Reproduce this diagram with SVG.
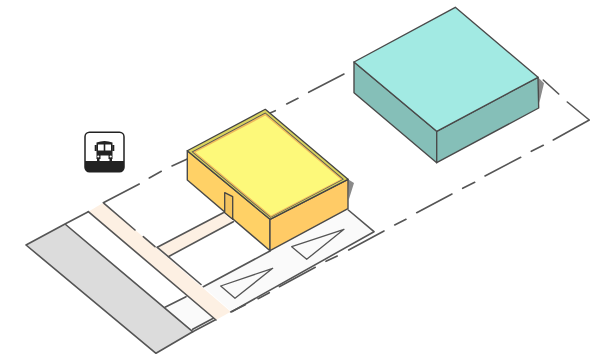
<svg xmlns="http://www.w3.org/2000/svg" width="603" height="354" viewBox="0 0 603 354">
<style>
.l{fill:none;stroke:#555;stroke-width:1.6;stroke-linejoin:round;stroke-linecap:round}
.t{fill:none;stroke:#555;stroke-width:1.3;stroke-linejoin:round;stroke-linecap:round}
.e{stroke:#4a4a4a;stroke-width:1.4;stroke-linejoin:round}
.d{stroke:#444;stroke-width:1.3;stroke-linejoin:round}
</style>
<rect width="603" height="354" fill="#fff"/>
<g id="site">
<polygon id="road" points="65,224 26,245 156,353.3 192.7,331.7" fill="#dcdcdc"/>
<polygon id="pad-left" points="165,307.3 186,296.7 213.3,318.3 192.7,329.3" fill="#fafafa"/>
<polygon id="pad-right" points="203.3,286.7 270,251 348.3,210 374,231.7 231.7,311.7" fill="#fafafa"/>
<polygon id="walk-path" points="157.3,247.3 223.3,212.7 233.3,221.7 168.3,256.7" fill="#fdf0e3"/>
<polygon id="sidewalk" points="88.3,211.7 103.3,202.7 230.7,311.7 216,320" fill="#fdf0e3"/>
<path class="l" d="M65,224 26,245 156,353.300 192.700,331.700 M65,224 192.700,331.700 M65,224 88.300,211.700 M165,307.300 186,296.700 M192.700,329.300 213.300,318.300"/>
<path class="l" d="M88.300,211.700 216,320 M104,203.300 135,230 M143.300,236.700 155,246.700 M157.300,247.300 201,284.500"/>
<path class="l" d="M157.300,247.300 223.300,212.700 M168.300,256.700 233.300,221.700"/>
<path class="l" d="M203.300,286.700 270,251 M348.300,210 374,231.700 231.700,311.700"/>
<polygon class="t" id="parking-a" points="220.700,286 272.700,268.300 235,298.300"/>
<polygon class="t" id="parking-b" points="291.700,246.700 344,229.300 306.700,259.300"/>
</g>
<g id="connectors">
<path class="l" d="M103.300,202.700 139.300,184 M149.300,178 161.300,171.300 M172,166 196,155 M270.700,112.700 275.300,110.700 M286.700,104 298,98.300 M308.700,92.300 344,74 M543.300,80 558.700,94 M567.300,102 589.300,120 553.300,140 M543.300,145.300 531.300,151.300 M520.700,157.300 485,176 M474.700,182.300 462.700,188.300 M452,194 416.700,212.700 M406,219.300 394.700,225 M384,231 348.700,250 M337.300,256 326,261.300 M315.300,267.300 279.300,286.700 M269.300,292.700 258,298.700 M245.300,304.700 230.700,312 M215,320 192.700,331.700"/>
</g>
<g id="building-b">
<polygon points="538,77.300 544,83.300 539.300,103" fill="#8a8a8a"/>
<polygon class="e" points="354,62 436.700,131.300 436.700,162.700 354,92.700" fill="#85bfb8"/>
<polygon class="e" points="436.700,131.300 538,77.300 538.700,108 436.700,162.700" fill="#85bfb8"/>
<polygon class="e" points="455.300,7.300 538,77.300 436.700,131.300 354,62" fill="#a2eae3"/>
</g>
<g id="building-a">
<polygon points="348,179.300 354,183 348.700,200" fill="#8a8a8a"/>
<polygon class="e" points="187.300,150.700 270,219.300 270,250.700 187.300,180" fill="#ffd166"/>
<polygon class="e" points="270,219.300 348,179.300 348,208.700 270,250.700" fill="#ffcb66"/>
<polygon class="d" points="265.300,109.300 348,179.300 270,219.300 187.300,150.700" fill="#d9d35e"/>
<polygon points="265.300,112.500 344,179.300 270.500,217.800 191.500,151.800" fill="#555"/>
<polygon points="265.300,113.500 342.500,179.300 270.800,217 193,152" fill="#eebb5c"/>
<polygon points="265.300,115.500 340.700,179.300 271,215.500 195.500,152.300" fill="#fdf97a"/>
<polygon class="d" id="door" points="224.700,192.700 232.700,196.700 232.700,219.300 224.700,212.700" fill="#f3c35f"/>
</g>
<g id="bus-icon">
<rect x="85" y="132.300" width="39" height="39.400" rx="4.500" fill="#fff" stroke="#222" stroke-width="1.500"/>
<path d="M85,161H124V167.200a4.500,4.500 0 0 1 -4.500,4.500H89.500a4.500,4.500 0 0 1 -4.500,-4.500Z" fill="#222"/>
<path d="M96.500,142.500q8,-3 16,0V159H96.500Z" fill="#222"/>
<rect x="94.700" y="145" width="2" height="6" fill="#222"/>
<rect x="112.300" y="145" width="2" height="6" fill="#222"/>
<rect x="98" y="144.500" width="5.700" height="6" fill="#fff"/>
<rect x="105.300" y="144.500" width="5.700" height="6" fill="#fff"/>
<rect x="100.500" y="155.500" width="8" height="3.500" fill="#fff"/>
<circle cx="98.300" cy="156.500" r="1.100" fill="#fff"/>
<circle cx="110.700" cy="156.500" r="1.100" fill="#fff"/>
<rect x="97" y="159" width="2.500" height="2.500" fill="#222"/>
<rect x="109.500" y="159" width="2.500" height="2.500" fill="#222"/>
</g>
</svg>
